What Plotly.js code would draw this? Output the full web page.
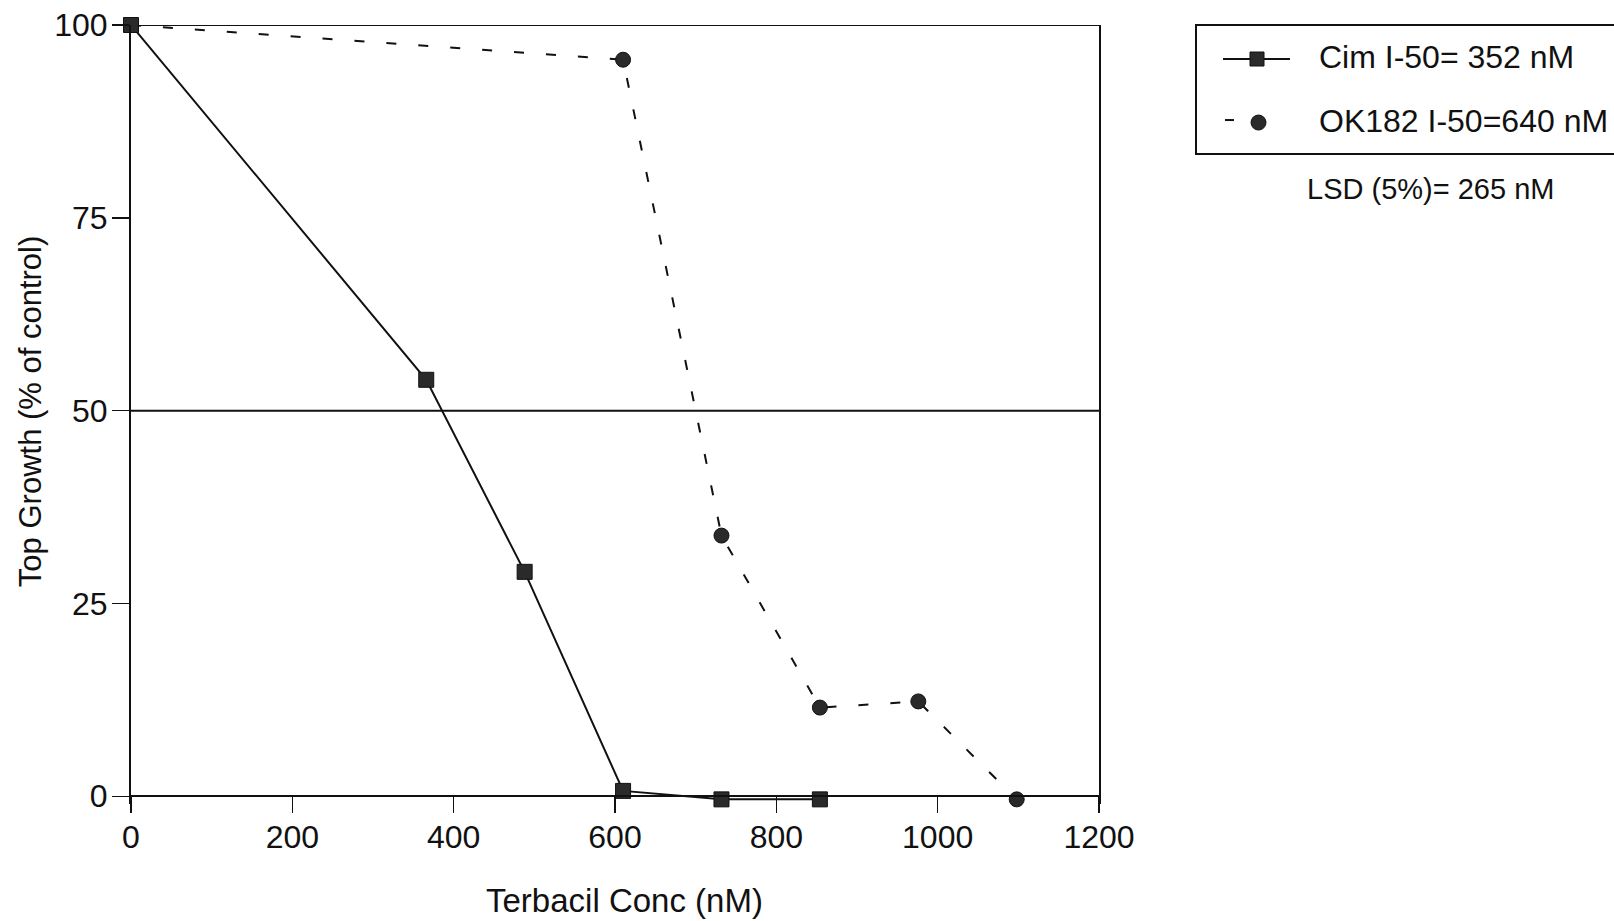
<!DOCTYPE html>
<html>
<head>
<meta charset="utf-8">
<script src="https://cdn.plot.ly/plotly-3.0.1.min.js"></script>
<style>
  html, body { margin: 0; padding: 0; background: #ffffff; }
  #chart { width: 1614px; height: 921px; }
</style>
</head>
<body>
<div id="chart"></div>
<script>
// Terbacil concentration (nM) and top growth (% of control) for each cultivar
const cimConc = [0, 366, 488, 610, 732, 854];
const cimGrowth = [100, 54, 29.1, 0.7, -0.4, -0.4];

const ok182Conc = [0, 610, 732, 854, 976, 1098];
const ok182Growth = [100, 95.5, 33.8, 11.5, 12.3, -0.4];

// Legend / annotation texts
const cimLabel = 'Cim I-50= 352 nM';
const okLabel = 'OK182 I-50=640 nM';
const lsdLabel = 'LSD (5%)= 265 nM';
const xTitle = 'Terbacil Conc (nM)';
const yTitle = 'Top Growth (% of control)';

// Axis ticks
const xTicks = [0, 200, 400, 600, 800, 1000, 1200];
const yTicks = [0, 25, 50, 75, 100];
const halfLine = 50;   // 50% reference level

const W = 1614, H = 921;
// plot frame: x 0..1200 spans px 131..1099, y 0..100 spans px 796..25
const Y0PX = 796, Y100PX = 25;
const pxPerUnit = (Y0PX - Y100PX) / 100;
const yLow = -1;       // a little room below zero so the zero-level markers stay drawn
const bottomPx = Y0PX - yLow * pxPerUnit;
const ML = 131, MR = W - 1099, MT = Y100PX, MB = H - bottomPx;
const plotH = bottomPx - MT;
const FONT = 'Liberation Sans, Arial, Helvetica, sans-serif';
const INK = '#111111';

// pixel -> paper helpers
const px = x => (x - ML) / (W - ML - MR);
const py = y => (H - MB - y) / plotH;

const traces = [
  {
    x: ok182Conc, y: ok182Growth,
    type: 'scatter', mode: 'lines+markers',
    line: { color: INK, width: 2, dash: '10px,22px' },
    marker: { symbol: 'circle', size: 15, color: '#2a2a2a', line: { color: INK, width: 1 } },
    cliponaxis: false, showlegend: false, hoverinfo: 'x+y'
  },
  {
    x: cimConc, y: cimGrowth,
    type: 'scatter', mode: 'lines+markers',
    line: { color: INK, width: 2 },
    marker: { symbol: 'square', size: 15, color: '#2a2a2a', line: { color: INK, width: 1 } },
    cliponaxis: false, showlegend: false, hoverinfo: 'x+y'
  }
];

const shapes = [
  // 50% reference line across the plot
  { type: 'line', xref: 'paper', yref: 'y', x0: 0, x1: 1, y0: halfLine, y1: halfLine,
    layer: 'below', line: { color: INK, width: 2 } },
  // top edge of the frame
  { type: 'line', xref: 'paper', yref: 'y', x0: 0, x1: 1, y0: 100, y1: 100,
    layer: 'below', line: { color: INK, width: 2 } },
  // legend frame (runs off the right edge)
  { type: 'rect', xref: 'paper', yref: 'paper', x0: px(1196), x1: px(1650), y0: py(154), y1: py(25),
    line: { color: INK, width: 2 }, fillcolor: 'rgba(0,0,0,0)' },
  // Cim key: solid line with square
  { type: 'line', xref: 'paper', yref: 'paper', x0: px(1223), x1: px(1290), y0: py(59), y1: py(59),
    line: { color: INK, width: 2 } },
  { type: 'rect', xref: 'paper', yref: 'paper', x0: px(1250), x1: px(1264), y0: py(66), y1: py(52),
    line: { color: INK, width: 1 }, fillcolor: '#2a2a2a' },
  // OK182 key: dash with circle
  { type: 'line', xref: 'paper', yref: 'paper', x0: px(1225), x1: px(1234), y0: py(120), y1: py(120),
    line: { color: INK, width: 2 } },
  { type: 'circle', xref: 'paper', yref: 'paper', x0: px(1251), x1: px(1266), y0: py(130), y1: py(115),
    line: { color: INK, width: 1 }, fillcolor: '#2a2a2a' }
];

const annotations = [
  { xref: 'paper', yref: 'paper', x: px(1317), y: py(57), xanchor: 'left', yanchor: 'middle',
    text: cimLabel, showarrow: false, font: { family: FONT, size: 32, color: INK } },
  { xref: 'paper', yref: 'paper', x: px(1317), y: py(121), xanchor: 'left', yanchor: 'middle',
    text: okLabel, showarrow: false, font: { family: FONT, size: 32, color: INK } },
  { xref: 'paper', yref: 'paper', x: px(1430), y: py(189), xanchor: 'center', yanchor: 'middle',
    text: lsdLabel, showarrow: false, font: { family: FONT, size: 29, color: INK } },
  // axis titles
  { xref: 'paper', yref: 'paper', x: px(624), y: py(900), xanchor: 'center', yanchor: 'middle',
    text: xTitle, showarrow: false, font: { family: FONT, size: 33, color: INK } },
  { xref: 'paper', yref: 'paper', x: px(30), y: py(412), xanchor: 'center', yanchor: 'middle',
    textangle: -90, text: yTitle, showarrow: false, font: { family: FONT, size: 31, color: INK } }
];

const layout = {
  width: W, height: H,
  margin: { l: ML, r: MR, t: MT, b: MB, pad: 0 },
  paper_bgcolor: '#ffffff', plot_bgcolor: '#ffffff',
  font: { family: FONT, color: INK },
  showlegend: false,
  xaxis: {
    range: [0, 1200], tickvals: xTicks, ticktext: xTicks.map(String),
    anchor: 'free', position: py(Y0PX),
    ticks: 'outside', ticklen: 16, tickwidth: 1.5, tickcolor: INK,
    showline: true, linecolor: INK, linewidth: 2,
    showgrid: false, zeroline: false,
    tickfont: { family: FONT, size: 32, color: INK }, ticklabelstandoff: -4,
    automargin: false, fixedrange: true
  },
  yaxis: {
    range: [yLow, 100], tickvals: yTicks, ticktext: yTicks.map(String),
    ticks: 'outside', ticklen: 17, tickwidth: 1.5, tickcolor: INK,
    showline: true, linecolor: INK, linewidth: 2, mirror: true,
    showgrid: false, zeroline: false,
    tickfont: { family: FONT, size: 32, color: INK }, ticklabelstandoff: -2,
    automargin: false, fixedrange: true
  },
  shapes: shapes,
  annotations: annotations
};

Plotly.newPlot('chart', traces, layout, { displayModeBar: false, staticPlot: true });
</script>
</body>
</html>
